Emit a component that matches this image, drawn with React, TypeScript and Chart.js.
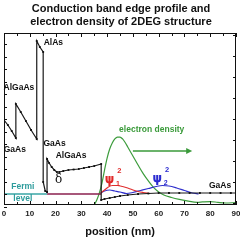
import React, { useEffect, useRef } from "react";
import { Chart, registerables } from "chart.js";

Chart.register(...registerables);

// ---- data (position in nm, energy in eV relative to Fermi level, density in a.u.) ----
const xTickLabels = [0, 10, 20, 30, 40, 50, 60, 70, 80, 90];
const xMinorTicks = [5, 15, 25, 35, 45, 55, 65, 75, 85];

const bandPosition = [
  0, 1.5, 3, 4.6, 4.6, 6.5, 8.5, 10.5, 12.7, 12.7, 13.9, 15.2, 15.2, 16.0, 16.7, 16.7,
  17.5, 18.5, 19.5, 20.5, 21.5, 23, 25, 27, 29, 31, 33, 35, 37.7, 37.7,
  39, 41, 43, 45, 48, 52, 56, 60, 64, 68, 72, 76, 80, 84, 88, 90,
];
const bandEnergy = [
  0.74, 0.69, 0.63, 0.56, 0.9, 0.82, 0.73, 0.64, 0.55, 1.53, 1.47, 1.42, 0.12, 0.03, 0.02, 0.35,
  0.31, 0.27, 0.24, 0.22, 0.22, 0.23, 0.24, 0.245, 0.25, 0.26, 0.27, 0.28, 0.3, -0.06,
  -0.05, -0.04, -0.03, -0.02, -0.01, 0, 0.005, 0.01, 0.01, 0.01, 0.01, 0.01, 0.01, 0.01, 0.01, 0.01,
];

const fermiLeftPosition = [0, 16.7];
const fermiLeftEnergy = [0, 0];
const fermiRightPosition = [16.7, 37.7];
const fermiRightEnergy = [0, 0];

const densityPosition = [
  35, 36, 37, 38, 39, 40, 41, 42, 43, 44, 45, 46, 47, 48, 50, 52, 54, 56, 58, 60, 62, 65,
  68, 71, 75, 77, 80, 83, 86, 90,
];
const densityValue = [
  -0.1, 0.14, 0.48, 0.95, 1.57, 2.14, 2.57, 2.86, 3.05, 3.14, 3.14, 3.05, 2.88, 2.67, 2.24,
  1.81, 1.4, 1.05, 0.74, 0.52, 0.38, 0.26, 0.17, 0.1, 0.03, 0.05, 0.07, 0.03, 0, 0.02,
];

const psi1Position = [37.5, 39, 40.5, 42, 44, 46, 48, 50, 52, 54, 56.5];
const psi1Value = [0.01, 0.04, 0.07, 0.085, 0.085, 0.075, 0.06, 0.04, 0.025, 0.015, 0.005];

const psi2Position = [37.5, 39, 41, 43, 45, 47.5, 50, 53, 56, 59, 61.5, 64, 67, 70, 73, 75.5];
const psi2Value = [0.01, 0.03, 0.04, 0.03, 0.02, 0.005, 0.015, 0.035, 0.055, 0.075, 0.085, 0.08, 0.06, 0.035, 0.01, 0];

const densityTicks = [0, 1, 2, 3, 4, 5, 6, 7, 8];
const energyTicks = [-0.125, 0, 0.125, 0.25, 0.375, 0.5, 0.625, 0.75, 0.875, 1, 1.125, 1.25, 1.375, 1.5];

const titleLines = ["Conduction band edge profile and", "electron density of 2DEG structure"];
const xTitle = "position (nm)";

const zip = (xs: number[], ys: number[]) => xs.map((x, i) => ({ x, y: ys[i] }));

const FONT = "'Liberation Sans', Arial, sans-serif";

const overlayPlugin = {
  id: "overlay",
  afterDraw(chart: any) {
    const { ctx, chartArea } = chart;
    const { left, right, top, bottom } = chartArea;
    const xs = chart.scales.x;
    const ys = chart.scales.y;
    const y2 = chart.scales.y2;
    ctx.save();

    // frame
    ctx.strokeStyle = "#111";
    ctx.lineWidth = 1;
    ctx.strokeRect(left + 0.5, top + 0.5, right - left - 1, bottom - top - 1);

    // inward ticks
    ctx.beginPath();
    const allX = [...xTickLabels, ...xMinorTicks];
    allX.forEach((v) => {
      const px = Math.round(xs.getPixelForValue(v)) + 0.5;
      const len = xTickLabels.includes(v) ? 4 : 3;
      ctx.moveTo(px, bottom);
      ctx.lineTo(px, bottom - len);
      ctx.moveTo(px, top);
      ctx.lineTo(px, top + len);
    });
    energyTicks.forEach((v) => {
      const py = Math.round(ys.getPixelForValue(v)) + 0.5;
      ctx.moveTo(left, py);
      ctx.lineTo(left + 3, py);
    });
    densityTicks.forEach((v) => {
      const py = Math.round(y2.getPixelForValue(v)) + 0.5;
      ctx.moveTo(right, py);
      ctx.lineTo(right - 3, py);
    });
    ctx.stroke();

    // x tick labels
    ctx.fillStyle = "#222";
    ctx.font = `bold 8px ${FONT}`;
    ctx.textAlign = "center";
    ctx.textBaseline = "middle";
    xTickLabels.forEach((v) => {
      ctx.fillText(String(v), xs.getPixelForValue(v), bottom + 9);
    });

    // axis title
    ctx.font = `bold 11px ${FONT}`;
    ctx.fillStyle = "#111";
    ctx.fillText(xTitle, (left + right) / 2, 232);

    // chart title
    ctx.font = `bold 11px ${FONT}`;
    ctx.fillText(titleLines[0], 121, 9);
    ctx.fillText(titleLines[1], 121, 21.5);

    const txt = (s: string, x: number, y: number, color: string, font: string, align = "center", axis = ys) => {
      ctx.fillStyle = color;
      ctx.font = font;
      ctx.textAlign = align;
      ctx.fillText(s, xs.getPixelForValue(x), axis.getPixelForValue(y));
    };
    const lab = `bold 8.5px ${FONT}`;
    txt("AlAs", 15.4, 1.51, "#111", lab, "left");
    txt("AlGaAs", 5.8, 1.06, "#111", lab);
    txt("GaAs", 4.2, 0.44, "#111", lab);
    txt("GaAs", 19.6, 0.5, "#111", lab);
    txt("AlGaAs", 26, 0.38, "#111", lab);
    txt("δ", 21.2, 0.14, "#111", `12px 'DejaVu Serif', serif`);
    txt("GaAs", 83.8, 0.08, "#111", lab);
    txt("Fermi", 7.3, 0.07, "#2e9c9c", lab);
    txt("level", 7.3, -0.05, "#2e9c9c", lab);
    txt("electron density", 57.3, 0.64, "#3a9a3a", lab);

    // psi labels
    const psi = (x: number, y: number, sub: string, color: string) => {
      txt("ψ", x, y, color, `bold 12px 'DejaVu Sans', sans-serif`);
      txt(sub, x + 2.5, y - 0.045, color, `bold 7px ${FONT}`, "left");
      txt("2", x + 3.0, y + 0.09, color, `bold 7.5px ${FONT}`, "left");
    };
    psi(40.9, 0.14, "1", "#e02828");
    psi(59.5, 0.15, "2", "#2a2ad0");

    // green arrow
    const ay = ys.getPixelForValue(0.43);
    const ax0 = xs.getPixelForValue(50);
    const ax1 = xs.getPixelForValue(73);
    ctx.strokeStyle = "#3a9a3a";
    ctx.fillStyle = "#3a9a3a";
    ctx.lineWidth = 1.5;
    ctx.beginPath();
    ctx.moveTo(ax0, ay);
    ctx.lineTo(ax1 - 5, ay);
    ctx.stroke();
    ctx.beginPath();
    ctx.moveTo(ax1, ay);
    ctx.lineTo(ax1 - 6, ay - 3);
    ctx.lineTo(ax1 - 6, ay + 3);
    ctx.closePath();
    ctx.fill();

    ctx.restore();
  },
};

export default function App() {
  const ref = useRef<HTMLCanvasElement>(null);
  useEffect(() => {
    document.body.style.margin = "0";
    const canvas = ref.current;
    if (!canvas) return;
    const chart = new Chart(canvas, {
      type: "line",
      data: {
        datasets: [
          {
            label: "conduction band",
            data: zip(bandPosition, bandEnergy),
            borderColor: "#1a1a1a",
            borderWidth: 1.2,
            pointRadius: 1.3,
            pointStyle: "rect",
            pointBackgroundColor: "#111",
            pointBorderWidth: 0,
            yAxisID: "y",
            order: 0,
            tension: 0,
          },
          {
            label: "Fermi left",
            data: zip(fermiLeftPosition, fermiLeftEnergy),
            borderColor: "#3aa6a6",
            borderWidth: 1.3,
            pointRadius: 0,
            yAxisID: "y",
            order: 1,
          },
          {
            label: "Fermi right",
            data: zip(fermiRightPosition, fermiRightEnergy),
            borderColor: "#8a1f4e",
            borderWidth: 1.5,
            pointRadius: 0,
            yAxisID: "y",
            order: 1,
          },
          {
            label: "psi1",
            data: zip(psi1Position, psi1Value),
            borderColor: "#e03030",
            borderWidth: 1.2,
            pointRadius: 0,
            cubicInterpolationMode: "monotone",
            yAxisID: "y",
            order: 2,
          },
          {
            label: "psi2",
            data: zip(psi2Position, psi2Value),
            borderColor: "#3030cc",
            borderWidth: 1.2,
            pointRadius: 0,
            cubicInterpolationMode: "monotone",
            yAxisID: "y",
            order: 3,
          },
          {
            label: "electron density",
            data: zip(densityPosition, densityValue),
            borderColor: "#3c9c3c",
            borderWidth: 1.2,
            pointRadius: 0,
            cubicInterpolationMode: "monotone",
            yAxisID: "y2",
            order: 4,
          },
        ],
      },
      options: {
        animation: false,
        responsive: false,
        parsing: false as any,
        layout: { padding: { left: 3, right: 3, top: 33, bottom: 35 } },
        plugins: { legend: { display: false }, tooltip: { enabled: false }, title: { display: false } },
        scales: {
          x: { type: "linear", min: 0, max: 90, display: false },
          y: { type: "linear", min: -0.11, max: 1.61, display: false },
          y2: { type: "linear", min: -2 / 21, max: 170 / 21, display: false, position: "right" },
        },
      },
      plugins: [overlayPlugin],
    });
    return () => chart.destroy();
  }, []);
  return <canvas ref={ref} width={240} height={240} style={{ display: "block", width: 240, height: 240 }} />;
}
